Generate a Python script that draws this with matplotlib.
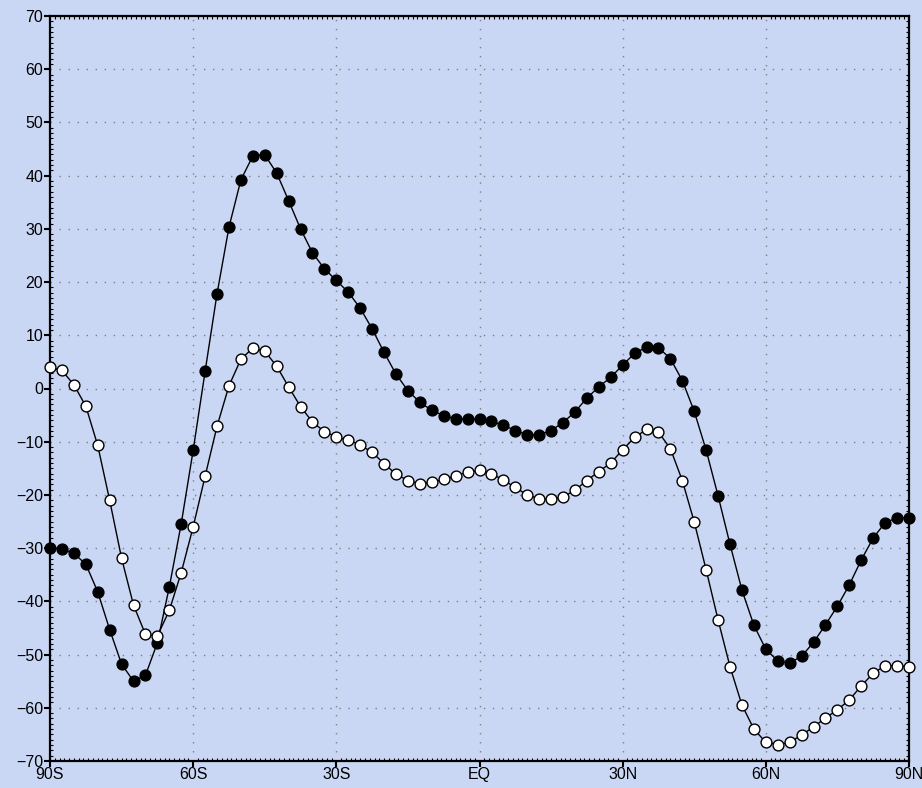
import numpy as np
import matplotlib
matplotlib.use("Agg")
import matplotlib.pyplot as plt
from matplotlib.ticker import MultipleLocator

# Latitudes every 2.5 degrees
lat = np.arange(-90, 90.01, 2.5)

filled_vals = [
    -30.0, -30.1, -31.0, -33.0, -38.2, -45.3, -51.8, -55.0, -53.9, -47.8,
    -37.3, -25.4, -11.6, 3.2, 17.8, 30.3, 39.2, 43.7, 43.9, 40.5,
    35.3, 30.0, 25.5, 22.5, 20.3, 18.1, 15.1, 11.2, 6.8, 2.7,
    -0.4, -2.6, -4.1, -5.1, -5.7, -5.7, -5.8, -6.2, -6.9, -7.9,
    -8.7, -8.7, -7.9, -6.4, -4.4, -1.8, 0.3, 2.1, 4.4, 6.6,
    7.8, 7.7, 5.6, 1.5, -4.3, -11.6, -20.2, -29.3, -37.9, -44.5,
    -49.0, -51.2, -51.6, -50.3, -47.7, -44.4, -40.9, -36.9, -32.2, -28.1,
    -25.2, -24.3, -24.3,
]

open_vals = [
    4.0, 3.4, 0.7, -3.3, -10.7, -21.0, -31.9, -40.7, -46.2, -46.5,
    -41.7, -34.6, -26.0, -16.5, -7.1, 0.5, 5.5, 7.6, 7.0, 4.2,
    0.3, -3.4, -6.3, -8.1, -9.1, -9.7, -10.6, -12.0, -14.1, -16.1,
    -17.3, -17.9, -17.6, -17.1, -16.4, -15.7, -15.4, -16.0, -17.2, -18.6,
    -20.0, -20.7, -20.8, -20.4, -19.1, -17.3, -15.6, -14.0, -11.5, -9.2,
    -7.7, -8.2, -11.3, -17.3, -25.1, -34.1, -43.5, -52.3, -59.5, -64.0,
    -66.5, -66.9, -66.5, -65.1, -63.6, -61.9, -60.4, -58.5, -55.9, -53.5,
    -52.1, -52.1, -52.3,
]

xtick_pos = [-90, -60, -30, 0, 30, 60, 90]
xtick_labels = ["90S", "60S", "30S", "EQ", "30N", "60N", "90N"]
ytick_pos = list(range(-70, 71, 10))

bg = "#c9d7f4"
plt.rcParams['font.family'] = ['Liberation Sans', 'DejaVu Sans']

fig = plt.figure(figsize=(9.22, 7.88), dpi=100, facecolor=bg)
ax = fig.add_axes([50 / 922, 1 - 761 / 788, 859 / 922, 745 / 788])
ax.set_facecolor(bg)

ax.set_xlim(-90, 90)
ax.set_ylim(-70, 70)

# grid
for x in xtick_pos[1:-1]:
    ax.axvline(x, color="#7f7f7f", lw=1.0, ls=(0, (1, 5.5)), zorder=1)
for y in ytick_pos[1:-1]:
    ax.axhline(y, color="#7f7f7f", lw=1.0, ls=(0, (1, 5.5)), zorder=1)

ax.plot(lat, filled_vals, color="black", lw=1.0, marker="o", ms=7.8,
        mfc="black", mec="black", mew=1.0, zorder=3, clip_on=False)
ax.plot(lat, open_vals, color="black", lw=1.0, marker="o", ms=7.8,
        mfc="white", mec="black", mew=1.0, zorder=3, clip_on=False)

ax.set_xticks(xtick_pos)
ax.set_xticklabels(xtick_labels)
ax.set_yticks(ytick_pos)
ax.set_yticklabels([str(v).replace("-", "\u2212") for v in ytick_pos])
ax.xaxis.set_minor_locator(MultipleLocator(1))
ax.yaxis.set_minor_locator(MultipleLocator(1))

ax.tick_params(which="major", direction="out", length=4, width=1.5,
               labelsize=11.5, pad=1, colors="black")
ax.tick_params(which="minor", direction="in", length=2, width=0.8,
               top=True, right=True, bottom=True, left=True)
ax.tick_params(axis="x", which="major", pad=0)

for s in ax.spines.values():
    s.set_linewidth(1.6)
    s.set_color("black")

fig.savefig("out.png", dpi=100, facecolor=bg)
